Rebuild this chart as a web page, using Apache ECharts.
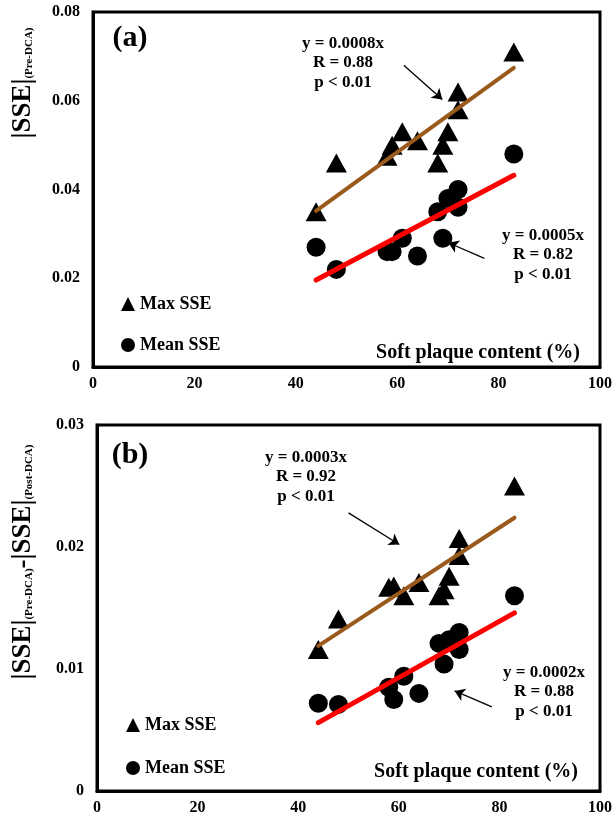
<!DOCTYPE html>
<html>
<head>
<meta charset="utf-8">
<script src="https://cdn.jsdelivr.net/npm/echarts@6/dist/echarts.min.js"></script>
<style>
html, body { margin: 0; padding: 0; background: #fff; }
#chart { width: 615px; height: 822px; }
</style>
</head>
<body>
<div id="chart"></div>
<script>
// soft plaque content (%) of each case, shared by both panels
var softPlaque = [44, 48, 58, 59, 61, 64, 68, 69, 70, 72, 72, 83];

// (a) |SSE| pre-DCA
var maxSseA  = [0.035, 0.046, 0.0475, 0.050, 0.053, 0.051, 0.046, 0.050, 0.053, 0.058, 0.062, 0.071];
var meanSseA = [0.027, 0.022, 0.026, 0.026, 0.029, 0.025, 0.035, 0.029, 0.038, 0.036, 0.040, 0.048];

// (b) |SSE| pre-DCA - |SSE| post-DCA
var maxSseB  = [0.0116, 0.0141, 0.0167, 0.0168, 0.0160, 0.0171, 0.0160, 0.0165, 0.0176, 0.0193, 0.0207, 0.0250];
var meanSseB = [0.0072, 0.0071, 0.0085, 0.0075, 0.0094, 0.0080, 0.0121, 0.0104, 0.0124, 0.0116, 0.0130, 0.0160];

// fitted lines, ends
var fitX = [44, 83];
var fitMaxA = [0.0352, 0.0674];
var fitMeanA = [0.0196, 0.0432];
var fitMaxB = [0.0119, 0.0224];
var fitMeanB = [0.0056, 0.0146];

// arrows pointing at the fits [from, to]
var arrowMaxA = [[61.3, 0.068], [68.9, 0.0603]];
var arrowMeanA = [[77.2, 0.0245], [70.1, 0.0280]];
var arrowMaxB = [[50.0, 0.0228], [60.1, 0.0202]];
var arrowMeanB = [[78.5, 0.0069], [71.1, 0.0082]];

var xTicks = [0, 20, 40, 60, 80, 100];
var yTicksA = [0, 0.02, 0.04, 0.06, 0.08];
var yTicksB = [0, 0.01, 0.02, 0.03];

var noteMaxA = 'y = 0.0008x\nR = 0.88\np < 0.01';
var noteMeanA = 'y = 0.0005x\nR = 0.82\np < 0.01';
var noteMaxB = 'y = 0.0003x\nR = 0.92\np < 0.01';
var noteMeanB = 'y = 0.0002x\nR = 0.88\np < 0.01';

var FONT = '"Liberation Serif", "Times New Roman", serif';

function pairs(xs, ys) {
	return xs.map(function (x, i) { return [x, ys[i]]; });
}

function xAxisOf(idx) {
	return {
		type: 'value', gridIndex: idx,
		min: xTicks[0], max: xTicks[xTicks.length - 1], interval: 20,
		axisLine: { show: true, lineStyle: { color: '#000', width: 3 } },
		axisTick: { show: false },
		splitLine: { show: false },
		axisLabel: { margin: 9, color: '#000', fontFamily: FONT, fontWeight: 'bold', fontSize: 16 }
	};
}

function yAxisOf(idx, ticks, step) {
	return {
		type: 'value', gridIndex: idx,
		min: ticks[0], max: ticks[ticks.length - 1], interval: step,
		axisLine: { show: true, lineStyle: { color: '#000', width: 3 } },
		axisTick: { show: false },
		splitLine: { show: false },
		axisLabel: {
			margin: 13, color: '#000', fontFamily: FONT, fontWeight: 'bold', fontSize: 16,
			formatter: function (v) { return v === 0 ? '0' : v.toFixed(2); }
		}
	};
}

function scatter(name, idx, ys, sym, size) {
	return {
		name: name, type: 'scatter', xAxisIndex: idx, yAxisIndex: idx,
		symbol: sym, symbolSize: size,
		itemStyle: { color: '#000', opacity: 1 },
		data: pairs(softPlaque, ys), z: 3
	};
}

function fit(idx, ys, color, w) {
	return {
		type: 'line', xAxisIndex: idx, yAxisIndex: idx,
		showSymbol: false, symbol: 'none',
		lineStyle: { color: color, width: w, cap: 'round' },
		data: pairs(fitX, ys), z: 4, silent: true
	};
}

function arrow(idx, coords) {
	return {
		type: 'lines', coordinateSystem: 'cartesian2d', xAxisIndex: idx, yAxisIndex: idx,
		symbol: ['none', 'arrow'], symbolSize: [7, 10],
		lineStyle: { color: '#000', width: 1.3, opacity: 1 },
		data: [{ coords: coords }], z: 5, silent: true
	};
}

function note(x, y, text) {
	return {
		type: 'text', x: x, y: y, z: 10,
		style: {
			text: text, fill: '#000', font: 'bold 17px ' + FONT, lineHeight: 19.5,
			textAlign: 'center', textVerticalAlign: 'middle'
		}
	};
}

function plain(x, y, text, size, align) {
	return {
		type: 'text', x: x, y: y, z: 10,
		style: {
			text: text, fill: '#000', font: 'bold ' + size + 'px ' + FONT,
			textAlign: align || 'center', textVerticalAlign: 'middle'
		}
	};
}

var richTitle = {
	big: { fontFamily: FONT, fontWeight: 'bold', fontSize: 27, lineHeight: 30, verticalAlign: 'bottom' },
	sub: { fontFamily: FONT, fontWeight: 'bold', fontSize: 11, lineHeight: 30, verticalAlign: 'bottom', padding: [0, 0, 2, 0] }
};

function yTitle(x, y, text) {
	return {
		type: 'text', x: x, y: y, rotation: Math.PI / 2, z: 10,
		style: {
			text: text, fill: '#000', rich: richTitle,
			textAlign: 'center', textVerticalAlign: 'middle'
		}
	};
}

function legendOf(left, top, gap) {
	return {
		orient: 'vertical', left: left, top: top, itemGap: gap,
		itemWidth: 14, itemHeight: 14, selectedMode: false,
		textStyle: { color: '#000', fontFamily: FONT, fontWeight: 'bold', fontSize: 18 },
		data: ['Max SSE', 'Mean SSE']
	};
}

var chart = echarts.init(document.getElementById('chart'));

chart.setOption({
	animation: false,
	backgroundColor: '#fff',
	grid: [
		{ left: 93, top: 12, width: 511, height: 355, show: true, borderColor: '#000', borderWidth: 3, containLabel: false },
		{ left: 97, top: 425, width: 506, height: 366, show: true, borderColor: '#000', borderWidth: 3, containLabel: false }
	],
	xAxis: [xAxisOf(0), xAxisOf(1)],
	yAxis: [yAxisOf(0, yTicksA, 0.02), yAxisOf(1, yTicksB, 0.01)],
	legend: [legendOf(116, 290, 23), legendOf(121, 711, 25)],
	series: [
		scatter('Max SSE', 0, maxSseA, 'triangle', [21, 19]),
		scatter('Mean SSE', 0, meanSseA, 'circle', 19),
		fit(0, fitMaxA, '#9a5a1c', 4),
		fit(0, fitMeanA, '#ff0000', 5),
		arrow(0, arrowMaxA),
		arrow(0, arrowMeanA),
		scatter('Max SSE', 1, maxSseB, 'triangle', [21, 19]),
		scatter('Mean SSE', 1, meanSseB, 'circle', 19),
		fit(1, fitMaxB, '#9a5a1c', 4),
		fit(1, fitMeanB, '#ff0000', 5),
		arrow(1, arrowMaxB),
		arrow(1, arrowMeanB)
	],
	graphic: [
		plain(130, 38, '(a)', 30),
		plain(130, 455, '(b)', 30),
		note(343, 63, noteMaxA),
		note(543, 255, noteMeanA),
		note(306, 477, noteMaxB),
		note(544, 692, noteMeanB),
		plain(580, 353, 'Soft plaque content (%)', 20, 'right'),
		plain(578, 772, 'Soft plaque content (%)', 20, 'right'),
		yTitle(22, 83, '{big||SSE|}{sub|(Pre-DCA)}'),
		yTitle(22, 562, '{big||SSE|}{sub|(Pre-DCA)}{big|-|SSE|}{sub|(Post-DCA)}')
	]
});
</script>
</body>
</html>
